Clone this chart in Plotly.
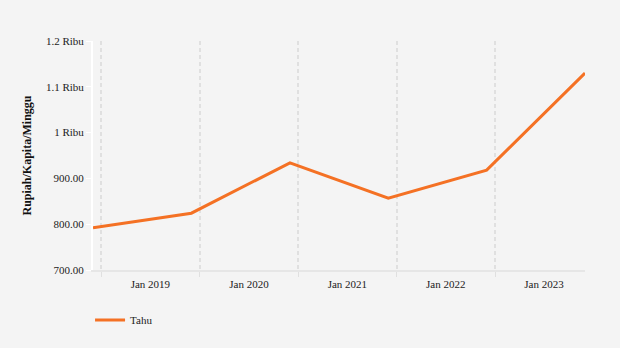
import plotly.graph_objects as go

dates = ["2018-12-01", "2019-12-01", "2020-12-01", "2021-12-01", "2022-12-01", "2023-12-01"]
values = [792, 824, 934, 857, 918, 1130]
series_name = "Tahu"
x_label_dates = ["2019-07-02", "2020-07-02", "2021-07-02", "2022-07-02", "2023-07-02"]
x_ticktext = ["Jan 2019", "Jan 2020", "Jan 2021", "Jan 2022", "Jan 2023"]
y_tickvals = [700, 800, 900, 1000, 1100, 1200]
y_ticktext = ["700.00", "800.00", "900.00", "1 Ribu", "1.1 Ribu", "1.2 Ribu"]
y_title = "Rupiah/Kapita/Minggu"

fig = go.Figure()
fig.add_trace(go.Scatter(x=dates, y=values, mode="lines", name=series_name,
                         line=dict(color="#f47124", width=3)))

fig.update_layout(
    width=620, height=348,
    paper_bgcolor="#f4f4f4", plot_bgcolor="#f4f4f4",
    margin=dict(l=93, r=35, t=41, b=78),
    font=dict(family="Liberation Serif, Times New Roman, serif", size=11, color="#222"),
    showlegend=True,
    legend=dict(orientation="h", x=-0.006, xanchor="left", y=-0.155, yanchor="top",
                bgcolor="rgba(0,0,0,0)", font=dict(size=11)),
    xaxis=dict(
        type="date", range=["2018-12-01", "2023-12-01"],
        tickvals=x_label_dates, ticktext=x_ticktext,
        showgrid=False,
        ticks="outside", ticklen=3, tickcolor="rgba(0,0,0,0)",
        minor=dict(tick0="2019-01-01", dtick="M12", showgrid=True, gridcolor="#e0e0e0",
                   griddash="4px,3px", gridwidth=2, ticks="outside", ticklen=5, tickcolor="#e0e0e0"),
        showline=True, linecolor="#e6e6e6", linewidth=2,
        zeroline=False,
    ),
    yaxis=dict(
        range=[700, 1200], tickvals=y_tickvals, ticktext=y_ticktext,
        showgrid=False, zeroline=False,
        showline=True, linecolor="#ffffff", linewidth=2,
        ticks="outside", ticklen=5, tickcolor="#ffffff",
        title=dict(text="<b>" + y_title + "</b>", font=dict(size=12, color="#111"), standoff=12),
    ),
)

fig.write_html("out.html")
